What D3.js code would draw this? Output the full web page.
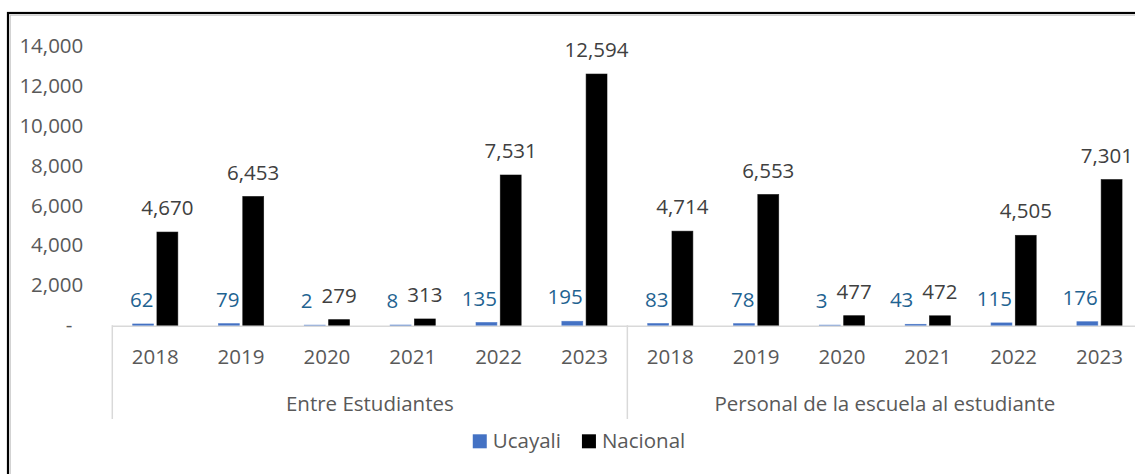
<!DOCTYPE html>
<html>
<head>
<meta charset="utf-8">
<script src="https://cdn.jsdelivr.net/npm/d3@7"></script>
<style>
  html, body { margin: 0; padding: 0; background: #fff; }
  svg { display: block; font-family: "Open Sans", "Noto Sans", sans-serif; }
</style>
</head>
<body>
<svg id="chart" width="1135" height="474"></svg>
<script>
// Casos reportados por tipo de violencia, Ucayali vs. Nacional
const groups = ["Entre Estudiantes", "Personal de la escuela al estudiante"];
const years = ["2018", "2019", "2020", "2021", "2022", "2023"];
const seriesNames = ["Ucayali", "Nacional"];

const ucayaliEntre = [62, 79, 2, 8, 135, 195];
const nacionalEntre = [4670, 6453, 279, 313, 7531, 12594];
const ucayaliPersonal = [83, 78, 3, 43, 115, 176];
const nacionalPersonal = [4714, 6553, 477, 472, 4505, 7301];

const yTicks = [0, 2000, 4000, 6000, 8000, 10000, 12000, 14000];

const colors = { Ucayali: "#4472C4", Nacional: "#000000" };
const labelColors = { Ucayali: "#1F6391", Nacional: "#404040" };

// Flatten into one row per (group, year)
const valuesByGroup = [
  { Ucayali: ucayaliEntre, Nacional: nacionalEntre },
  { Ucayali: ucayaliPersonal, Nacional: nacionalPersonal }
];
const rows = [];
groups.forEach((g, gi) => {
  years.forEach((y, yi) => {
    rows.push({
      key: g + "|" + y, group: g, year: y,
      Ucayali: valuesByGroup[gi].Ucayali[yi],
      Nacional: valuesByGroup[gi].Nacional[yi]
    });
  });
});

const svg = d3.select("#chart");
const FONT = 20.5;
const W = 1135;

// Outer frame (only its top and left edges fall inside the view)
svg.append("rect")
  .attr("x", 8).attr("y", 13)
  .attr("width", 1200).attr("height", 600)
  .attr("fill", "none").attr("stroke", "#000").attr("stroke-width", 2.2);
svg.append("path")
  .attr("d", "M10,15.2H1200M10.2,15V600")
  .attr("stroke", "#bfbfbf").attr("stroke-width", 1).attr("fill", "none");

const plotLeft = 112.3, plotRight = 1142.4;
const y0 = 325.2, yTop = 46;

const x0 = d3.scaleBand().domain(rows.map(r => r.key)).range([plotLeft, plotRight]);
const cw = x0.bandwidth();
const x1 = d3.scaleBand().domain(seriesNames)
  .range([cw * 0.237, cw * 0.763]).paddingInner(0.14);
const y = d3.scaleLinear().domain([0, 14000]).range([y0, yTop]);

// Y axis labels (no axis line, no tick marks)
const yAxis = svg.append("g")
  .attr("transform", `translate(${plotLeft},0)`)
  .call(d3.axisLeft(y).tickValues(yTicks)
    .tickFormat(d => d === 0 ? "-" : d3.format(",")(d))
    .tickSize(0).tickPadding(29));
yAxis.select(".domain").remove();
yAxis.selectAll("text")
  .attr("font-size", FONT).attr("font-family", "Open Sans")
  .attr("fill", "#595959")
  .attr("dx", d => d === 0 ? -11 : 0);

// Category baseline and multi-level dividers
svg.append("line")
  .attr("x1", plotLeft).attr("x2", plotRight)
  .attr("y1", y0 + 1).attr("y2", y0 + 1)
  .attr("stroke", "#d9d9d9").attr("stroke-width", 1.5);
[0, 1, 2].forEach(i => {
  const xx = plotLeft + i * cw * years.length;
  svg.append("line")
    .attr("x1", xx).attr("x2", xx)
    .attr("y1", y0).attr("y2", 419)
    .attr("stroke", "#d9d9d9").attr("stroke-width", 1.5);
});

// Bars
const cat = svg.append("g").selectAll("g").data(rows).join("g")
  .attr("transform", d => `translate(${x0(d.key)},0)`);

cat.selectAll("rect").data(d => seriesNames.map(s => ({ s, v: d[s] }))).join("rect")
  .attr("x", d => x1(d.s))
  .attr("width", x1.bandwidth())
  .attr("y", d => y(d.v))
  .attr("height", d => y0 - y(d.v))
  .attr("fill", d => colors[d.s])
  .attr("stroke", d => colors[d.s])
  .attr("stroke-width", 0.8)
  .attr("stroke-opacity", 0.7);

// Data labels: Nacional centred over its bar, Ucayali right-aligned to its bar
cat.each(function (d) {
  const g = d3.select(this);
  const gx = x0(d.key);
  const nacCx = x1("Nacional") + x1.bandwidth() / 2;
  const nac = g.append("text")
    .attr("x", nacCx)
    .attr("y", y(d.Nacional) - 17)
    .attr("text-anchor", "middle")
    .attr("font-size", FONT)
    .attr("fill", labelColors.Nacional)
    .text(d3.format(",")(d.Nacional));
  const nacW = nac.node().getComputedTextLength();
  // keep inside the chart area on the right
  const overflow = gx + nacCx + nacW / 2 - (W - 2);
  const nacX = overflow > 0 ? nacCx - overflow : nacCx;
  nac.attr("x", nacX);
  const nacLeft = nacX - nacW / 2;

  const ucaY = y(d.Ucayali) - 17;
  let ucaRight = x1("Ucayali") + x1.bandwidth();
  // slide left when the neighbouring label sits at the same height
  if (Math.abs(ucaY - (y(d.Nacional) - 17)) < FONT) {
    ucaRight = Math.min(ucaRight, nacLeft - 9);
  }
  g.append("text")
    .attr("x", ucaRight)
    .attr("y", ucaY)
    .attr("text-anchor", "end")
    .attr("font-size", FONT)
    .attr("fill", labelColors.Ucayali)
    .text(d3.format(",")(d.Ucayali));
});

// Year labels
cat.append("text")
  .attr("x", cw / 2).attr("y", 364)
  .attr("text-anchor", "middle")
  .attr("font-size", FONT).attr("fill", "#595959")
  .text(d => d.year);

// Group labels
groups.forEach((g, gi) => {
  svg.append("text")
    .attr("x", plotLeft + (gi + 0.5) * cw * years.length)
    .attr("y", 410.7)
    .attr("text-anchor", "middle")
    .attr("font-size", FONT).attr("fill", "#595959")
    .text(g);
});

// Legend
const legend = svg.append("g");
let lx = 0;
seriesNames.forEach((s) => {
  const it = legend.append("g").attr("transform", `translate(${lx},0)`);
  it.append("rect").attr("x", 0).attr("y", 434.3).attr("width", 14).attr("height", 14)
    .attr("fill", colors[s]);
  const t = it.append("text").attr("x", 20).attr("y", 447.7)
    .attr("font-size", FONT).attr("fill", "#595959").text(s);
  lx += 20 + t.node().getComputedTextLength() + 21;
});
const legendWidth = lx - 21;
legend.attr("transform", `translate(${579 - legendWidth / 2},0)`);
</script>
</body>
</html>
